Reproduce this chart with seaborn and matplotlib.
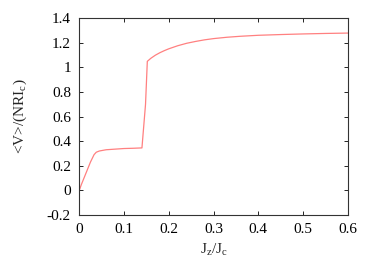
import matplotlib
matplotlib.use("Agg")
import matplotlib.pyplot as plt
import seaborn as sns
import pandas as pd

# curve
jz = [0.0, 0.005, 0.015, 0.025, 0.033, 0.038, 0.045, 0.06, 0.08, 0.10, 0.12, 0.14,
      0.148, 0.152, 0.16, 0.17, 0.18, 0.19, 0.20, 0.22, 0.24, 0.26, 0.28, 0.30,
      0.33, 0.36, 0.40, 0.45, 0.50, 0.55, 0.60]
v = [0.0, 0.05, 0.14, 0.23, 0.29, 0.31, 0.32, 0.33, 0.335, 0.34, 0.342, 0.345,
     0.70, 1.05, 1.075, 1.10, 1.12, 1.137, 1.152, 1.177, 1.197, 1.212, 1.225, 1.235,
     1.246, 1.254, 1.262, 1.268, 1.273, 1.277, 1.28]
xticks = [0, 0.1, 0.2, 0.3, 0.4, 0.5, 0.6]
yticks = [-0.2, 0, 0.2, 0.4, 0.6, 0.8, 1, 1.2, 1.4]

sns.set_style("ticks")
plt.rcParams['font.family'] = ['Liberation Serif', 'DejaVu Serif']
plt.rcParams['axes.unicode_minus'] = False
plt.rcParams['mathtext.fontset'] = 'custom'
plt.rcParams['mathtext.rm'] = 'Liberation Serif'
plt.rcParams['mathtext.it'] = 'Liberation Serif'

df = pd.DataFrame({"jz": jz, "v": v})
fig, ax = plt.subplots(figsize=(3.74, 2.62), dpi=100)
sns.lineplot(data=df, x="jz", y="v", ax=ax, color="#ff8080", linewidth=0.9)

ax.set_xlim(0, 0.6)
ax.set_ylim(-0.2, 1.4)
ax.set_xticks(xticks)
ax.set_xticklabels([f"{t:g}" for t in xticks])
ax.set_yticks(yticks)
ax.set_yticklabels([f"{t:g}" for t in yticks])
ax.tick_params(direction="in", top=True, right=True, length=3, width=0.6,
               labelsize=11, colors="black", pad=6)
for s in ax.spines.values():
    s.set_linewidth(0.8)
    s.set_color("#333333")
ax.set_xlabel(r"J$_\mathrm{z}$/J$_\mathrm{c}$", fontsize=11)
ax.set_ylabel(r"<V>/(NRI$_\mathrm{c}$)", fontsize=11, labelpad=13)

fig.subplots_adjust(left=0.212, right=0.93, top=0.93, bottom=0.18)
fig.savefig("out.png", dpi=100)
